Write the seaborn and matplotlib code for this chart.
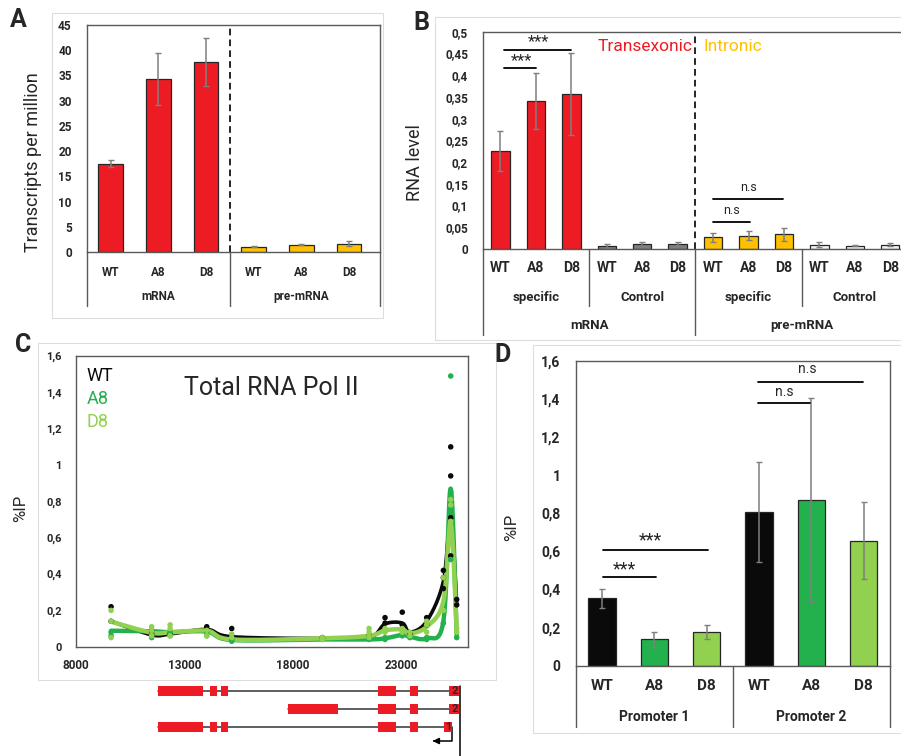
import numpy as np
import pandas as pd
import seaborn as sns
import matplotlib.pyplot as plt
from matplotlib.transforms import blended_transform_factory
from matplotlib.patches import Rectangle

sns.set_theme(style="white")
plt.rcParams['font.family'] = ['Roboto', 'DejaVu Sans']

RED = '#ED1C24'
ORANGE = '#FFC000'
BLACK = '#0a0a0a'
GREEN = '#22B14C'
LGREEN = '#92D050'
SPINE = '#595959'

# ---- panel A data
a_labels = ['WT', 'A8', 'D8', 'WT', 'A8', 'D8']
a_groups = ['mRNA', 'pre-mRNA']
a_vals = [17.5, 34.3, 37.7, 1.05, 1.45, 1.65]
a_errs = [0.7, 5.1, 4.8, 0.1, 0.15, 0.45]
a_colors = [RED, RED, RED, ORANGE, ORANGE, ORANGE]

# ---- panel B data
b_labels = ['WT', 'A8', 'D8'] * 4
b_sub = ['specific', 'Control', 'specific', 'Control']
b_groups = ['mRNA', 'pre-mRNA']
b_vals = [0.226, 0.341, 0.356, 0.007, 0.012, 0.012,
          0.027, 0.031, 0.034, 0.010, 0.008, 0.010]
b_errs = [0.046, 0.065, 0.094, 0.004, 0.004, 0.003,
          0.010, 0.010, 0.015, 0.005, 0.001, 0.003]
b_colors = [RED] * 3 + ['#7F7F7F'] * 3 + [ORANGE] * 3 + ['#F2F2F2'] * 3
b_sig = [(0.1, 1.0, 0.416, 0.433, 0.6, '***'), (0.1, 2.0, 0.458, 0.477, 1.07, '***'),
         (6.0, 7.04, 0.063, 0.088, 6.53, 'n.s'), (6.0, 7.98, 0.114, 0.141, 7.0, 'n.s')]

# ---- panel C data (positions in bp, %IP)
c_pos = [9630, 11500, 12350, 14040, 15190, 19370, 21520, 22255, 23050, 23400, 24175, 24944, 25282, 25558]
wt_curve = [0.14, 0.065, 0.07, 0.095, 0.055, 0.045, 0.05, 0.125, 0.13, 0.08, 0.14, 0.36, 0.72, 0.24]
a8_curve = [0.088, 0.085, 0.08, 0.083, 0.037, 0.04, 0.04, 0.046, 0.065, 0.055, 0.046, 0.14, 0.87, 0.05]
d8_curve = [0.138, 0.077, 0.079, 0.088, 0.04, 0.046, 0.06, 0.09, 0.095, 0.073, 0.11, 0.25, 0.68, 0.09]
wt_x = [9630, 9630, 11500, 11500, 12350, 14040, 15190, 19370, 21520, 22255, 22255, 23050, 23050,
        23400, 24175, 24175, 24944, 24944, 24944, 25282, 25282, 25282, 25282, 25558, 25558]
wt_y = [0.22, 0.14, 0.09, 0.07, 0.07, 0.11, 0.10, 0.05, 0.06, 0.16, 0.13, 0.19, 0.12,
        0.07, 0.16, 0.12, 0.42, 0.38, 0.32, 1.10, 0.94, 0.71, 0.50, 0.26, 0.23]
a8_x = [9630, 9630, 11500, 11500, 12350, 12350, 14040, 14040, 15190, 15190, 19370, 21520, 22255,
        22255, 23050, 23050, 23400, 24175, 24175, 24944, 25282, 25282, 25282, 25558]
a8_y = [0.08, 0.06, 0.07, 0.05, 0.08, 0.06, 0.08, 0.06, 0.04, 0.03, 0.04, 0.04, 0.05,
        0.04, 0.07, 0.06, 0.05, 0.05, 0.04, 0.13, 1.49, 0.85, 0.48, 0.05]
d8_x = [9630, 9630, 9630, 11500, 11500, 11500, 12350, 12350, 12350, 14040, 14040, 15190, 15190,
        19370, 19370, 21520, 21520, 21520, 21520, 22255, 22255, 23050, 23050, 23400, 23400,
        24175, 24175, 24175, 24944, 24944, 25282, 25282, 25282, 25558, 25558]
d8_y = [0.20, 0.14, 0.05, 0.11, 0.09, 0.06, 0.12, 0.10, 0.06, 0.09, 0.06, 0.07, 0.05,
        0.05, 0.04, 0.10, 0.08, 0.06, 0.05, 0.10, 0.08, 0.10, 0.08, 0.08, 0.06,
        0.14, 0.12, 0.08, 0.20, 0.38, 0.81, 0.78, 0.69, 0.10, 0.08]
c_xticks = [8000, 13000, 18000, 23000]

# gene models (bp)
iso1_exons = [(11806, 13880), (14189, 14525), (14696, 15004), (21917, 22746), (23405, 23788)]
iso2_exons = [(17769, 20073), (21917, 22746), (23405, 23788)]
prom2_box = (25216, 25676)
prom1_box = (24985, 25326)

# ---- panel D data
d_labels = ['WT', 'A8', 'D8', 'WT', 'A8', 'D8']
d_groups = ['Promoter 1', 'Promoter 2']
d_vals = [0.353, 0.138, 0.175, 0.808, 0.869, 0.656]
d_errs = [0.048, 0.040, 0.037, 0.263, 0.535, 0.201]
d_colors = [BLACK, GREEN, LGREEN, BLACK, GREEN, LGREEN]
d_sig = [(0.02, 1.03, 0.463, 0.505, 0.43, '***'), (0.02, 2.02, 0.607, 0.66, 0.93, '***'),
         (2.98, 3.97, 1.376, 1.434, 3.48, 'n.s'), (2.98, 4.99, 1.488, 1.554, 3.92, 'n.s')]

W, H = 901, 756


def rect(l, t, r, b):
    return [l / W, 1 - b / H, (r - l) / W, (b - t) / H]


def comma(v):
    return f"{v:g}".replace('.', ',')


def bars(ax, vals, errs, colors, ticks, tsize, pad):
    df = pd.DataFrame({'slot': [f's{i}' for i in range(len(vals))], 'val': vals})
    sns.barplot(data=df, x='slot', y='val', hue='slot', palette=dict(zip(df.slot, colors)),
                width=0.52, saturation=1, edgecolor='#262626', linewidth=0.9, legend=False, ax=ax)
    ax.errorbar(range(len(vals)), vals, yerr=errs, fmt='none', ecolor='#7F7F7F',
                elinewidth=1.1, capsize=2, capthick=1)
    ax.set_ylim(ticks[0], ticks[-1])
    ax.set_yticks(ticks)
    ax.set_yticklabels([comma(t) for t in ticks], fontsize=tsize, fontweight='bold')
    ax.tick_params(axis='y', length=0, pad=pad)
    ax.set_xticks([])
    ax.set_xlabel('')
    for s in ax.spines.values():
        s.set_color(SPINE)
        s.set_linewidth(1)


def vline_below(ax, x, ybot):
    tr = blended_transform_factory(ax.transData, ax.transAxes)
    ax.plot([x, x], [0, ybot], transform=tr, clip_on=False, color=SPINE, lw=1)


def text_below(ax, x, y, s, size):
    tr = blended_transform_factory(ax.transData, ax.transAxes)
    ax.text(x, y, s, transform=tr, ha='center', va='center', fontsize=size, fontweight='bold')


def sig(ax, items, tsize):
    for x0, x1, yl, yt, xt, lab in items:
        ax.plot([x0, x1], [yl, yl], color='black', lw=1.3)
        fs = tsize + 3 if lab == '***' else tsize
        ax.text(xt, yt, lab, ha='center', va='center', fontsize=fs)


def smooth(xs, ys, xlim, ylim, aw, ah, n=30):
    px = (np.array(xs) - xlim[0]) / (xlim[1] - xlim[0]) * aw
    py = (np.array(ys) - ylim[0]) / (ylim[1] - ylim[0]) * ah
    P = np.column_stack([px, py])
    E = np.vstack([P[0], P, P[-1]])
    out = []
    t = np.linspace(0, 1, n)[:, None]
    for i in range(len(P) - 1):
        p0, p1, p2, p3 = E[i], E[i + 1], E[i + 2], E[i + 3]
        c1 = p1 + (p2 - p0) / 6
        c2 = p2 - (p3 - p1) / 6
        seg = (1 - t) ** 3 * p1 + 3 * (1 - t) ** 2 * t * c1 + 3 * (1 - t) * t ** 2 * c2 + t ** 3 * p2
        out.append(seg if i == 0 else seg[1:])
    S = np.vstack(out)
    return (S[:, 0] / aw * (xlim[1] - xlim[0]) + xlim[0],
            S[:, 1] / ah * (ylim[1] - ylim[0]) + ylim[0])


fig = plt.figure(figsize=(9.01, 7.56), dpi=100)

# panel frames
for l, t, r, b in [(52, 13, 383, 318), (435, 17, 905, 340), (38, 343, 496, 680), (533, 345, 905, 733)]:
    fig.add_artist(Rectangle((l / W, 1 - b / H), (r - l) / W, (b - t) / H, transform=fig.transFigure,
                             fill=False, edgecolor='#DDDDDD', lw=0.8))

# ---------------- A
axA = fig.add_axes(rect(87, 25, 380, 252))
bars(axA, a_vals, a_errs, a_colors, list(range(0, 50, 5)), 8.5, 11)
axA.set_xlim(-0.5, 5.65)
axA.plot([2.5, 2.5], [0, 45], color='black', lw=1.2, ls=(0, (4, 2.5)))
axA.set_ylabel('Transcripts per million', fontsize=13)
axA.yaxis.set_label_coords(-0.154, 0.396)
for x in [-0.5, 2.5, 5.65]:
    vline_below(axA, x, -0.238)
for i, s in enumerate(a_labels):
    text_below(axA, i, -0.0925, s, 8.5)
text_below(axA, 1, -0.198, a_groups[0], 8.5)
text_below(axA, 4, -0.198, a_groups[1], 8.5)

# ---------------- B
axB = fig.add_axes(rect(482.7, 31.7, 908, 249))
bars(axB, b_vals, b_errs, b_colors, [round(0.05 * i, 2) for i in range(11)], 8.5, 10.5)
axB.set_xlim(-0.5, 11.5)
axB.plot([5.5, 5.5], [0, 0.5], color='black', lw=1.2, ls=(0, (4, 2.5)))
axB.set_ylabel('RNA level', fontsize=13)
axB.yaxis.set_label_coords(-0.138, 0.396)
for x, yb in [(-0.5, -0.396), (2.5, -0.262), (5.5, -0.396), (8.5, -0.262)]:
    vline_below(axB, x, yb)
for i, s in enumerate(b_labels):
    text_below(axB, i, -0.087, s, 10)
for k, s in enumerate(b_sub):
    text_below(axB, 3 * k + 1, -0.221, s, 9.5)
text_below(axB, 2.5, -0.350, b_groups[0], 9.5)
text_below(axB, 8.5, -0.350, b_groups[1], 9.5)
sig(axB, b_sig, 9)
axB.text(4.07, 0.465, 'Transexonic', color=RED, fontsize=12.5, ha='center', va='center')
axB.text(5.72, 0.465, 'Intronic', color=ORANGE, fontsize=12.5, ha='left', va='center')

# ---------------- C
xl, yl = (8000, 26065), (0, 1.6)
axC = fig.add_axes(rect(75.7, 356, 467.7, 646.7))
for cy, col, lw in [(wt_curve, BLACK, 2.6), (a8_curve, GREEN, 3.2), (d8_curve, LGREEN, 3.2)]:
    sx, sy = smooth(c_pos, cy, xl, yl, 392, 290.7)
    axC.plot(sx, sy, color=col, lw=lw, solid_capstyle='round')
for px, py, col in [(wt_x, wt_y, BLACK), (a8_x, a8_y, GREEN), (d8_x, d8_y, LGREEN)]:
    sns.scatterplot(x=px, y=py, color=col, s=16, edgecolor='none', ax=axC, zorder=3)
axC.set_xlim(*xl)
axC.set_ylim(*yl)
cyt = [round(0.2 * i, 1) for i in range(9)]
axC.set_yticks(cyt)
axC.set_yticklabels([comma(t) for t in cyt], fontsize=8, fontweight='bold')
axC.set_xticks(c_xticks)
axC.set_xticklabels([str(t) for t in c_xticks], fontsize=8.5, fontweight='bold')
axC.tick_params(length=0)
axC.tick_params(axis='y', pad=10)
axC.tick_params(axis='x', pad=9)
for s in axC.spines.values():
    s.set_color(SPINE)
    s.set_linewidth(1)
axC.set_ylabel('%IP', fontsize=12)
axC.yaxis.set_label_coords(-0.122, 0.477)
axC.text(0.5, 0.89, 'Total RNA Pol II', transform=axC.transAxes, fontsize=18, ha='center', va='center')
for k, (s, col) in enumerate([('WT', BLACK), ('A8', GREEN), ('D8', LGREEN)]):
    axC.text(0.028, 0.93 - k * 0.079, s, transform=axC.transAxes, color=col, fontsize=13,
             ha='left', va='center')

# gene models
axG = fig.add_axes([75.7 / W, 0, 392 / W, 76 / H])
axG.set_xlim(*xl)
axG.set_ylim(756, 680)
axG.axis('off')
rows = [(690.7, iso1_exons, prom2_box, '2'), (709.3, iso2_exons, prom2_box, '2'),
        (727.3, iso1_exons, prom1_box, '1')]
for y, exons, box, lab in rows:
    axG.plot([exons[0][0], box[0]], [y, y], color='#333333', lw=1.1, zorder=1)
    for e0, e1 in exons:
        axG.add_patch(Rectangle((e0, y - 5), e1 - e0, 10, color=RED, lw=0, zorder=3))
    axG.add_patch(Rectangle((box[0], y - 5), box[1] - box[0], 10, color=RED, lw=0, zorder=3))
    axG.text((box[0] + box[1]) / 2, y, lab, fontsize=8, fontweight='bold', ha='center', va='center', zorder=4)
axG.plot([25708, 25708], [686, 760], color='black', lw=1.1, clip_on=False)
axG.plot([25326, 25326, 24600], [727.3, 741, 741], color='black', lw=1.1)
axG.annotate('', xy=(24450, 741), xytext=(24700, 741),
             arrowprops=dict(arrowstyle='-|>', color='black', lw=1.1, mutation_scale=9))

# ---------------- D
axD = fig.add_axes(rect(575.7, 360.7, 890, 665.7))
bars(axD, d_vals, d_errs, d_colors, [round(0.2 * i, 1) for i in range(9)], 10, 11)
axD.set_xlim(-0.5, 5.5)
axD.set_ylabel('%IP', fontsize=12)
axD.yaxis.set_label_coords(-0.180, 0.455)
for x in [-0.5, 2.5, 5.5]:
    vline_below(axD, x, -0.201)
for i, s in enumerate(d_labels):
    text_below(axD, i, -0.0666, s, 11)
text_below(axD, 1, -0.168, d_groups[0], 10)
text_below(axD, 4, -0.168, d_groups[1], 10)
sig(axD, d_sig, 10)

# panel letters
for s, x, y in [('A', 18, 20), ('B', 421, 23), ('C', 23, 345), ('D', 503, 355)]:
    fig.text(x / W, 1 - y / H, s, fontsize=18, fontweight='bold', ha='center', va='center')

fig.savefig('out.png', dpi=100)
